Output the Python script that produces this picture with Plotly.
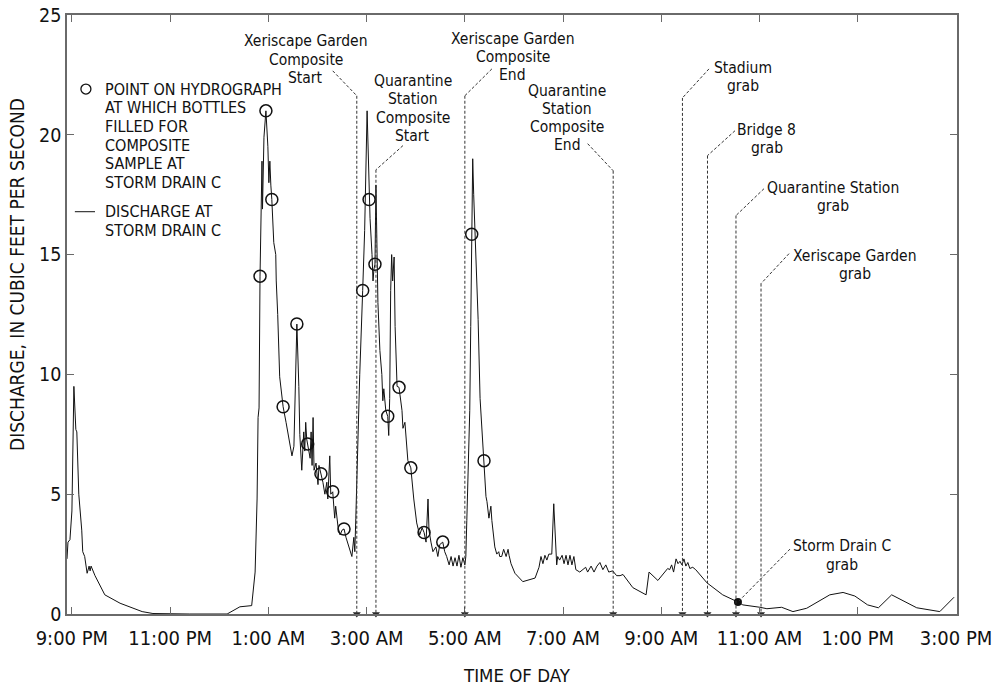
import plotly.graph_objects as go

# Discharge at Storm Drain C: hours elapsed since 9:00 PM and discharge (ft3/s)
hydro_hours = [
    -0.10, -0.08, -0.04, 0.00, 0.04, 0.08, 0.10, 0.14, 0.20, 0.22, 0.26, 0.31, 0.35,
    0.37, 0.39, 0.41, 0.47, 0.67, 0.98, 1.43, 1.65, 2.40, 3.16, 3.42, 3.66, 3.73,
    3.77, 3.79, 3.81, 3.83, 3.85, 3.87, 3.88, 3.91, 3.95, 3.99, 4.01, 4.03, 4.05,
    4.07, 4.11, 4.15, 4.16, 4.19, 4.23, 4.30, 4.36, 4.42, 4.48, 4.52, 4.58, 4.62,
    4.64, 4.68, 4.72, 4.74, 4.76, 4.78, 4.80, 4.85, 4.87, 4.89, 4.91, 4.93, 4.97,
    5.01, 5.03, 5.07, 5.11, 5.15, 5.19, 5.21, 5.25, 5.27, 5.31, 5.35, 5.37, 5.42,
    5.46, 5.50, 5.54, 5.58, 5.62, 5.66, 5.70, 5.74, 5.76, 5.78, 5.81, 5.82, 5.86,
    5.92, 5.96, 6.01, 6.03, 6.05, 6.07, 6.11, 6.13, 6.15, 6.17, 6.19, 6.21, 6.23,
    6.27, 6.31, 6.33, 6.35, 6.39, 6.43, 6.45, 6.47, 6.49, 6.51, 6.53, 6.56, 6.58,
    6.62, 6.66, 6.68, 6.72, 6.74, 6.78, 6.84, 6.90, 6.96, 7.02, 7.08, 7.13, 7.17,
    7.21, 7.25, 7.27, 7.31, 7.35, 7.41, 7.45, 7.49, 7.55, 7.59, 7.63, 7.68, 7.72,
    7.76, 7.80, 7.84, 7.88, 7.92, 7.96, 8.00, 8.02, 8.04, 8.06, 8.10, 8.12, 8.14,
    8.16, 8.18, 8.23, 8.27, 8.31, 8.35, 8.39, 8.43, 8.45, 8.49, 8.53, 8.55, 8.61,
    8.65, 8.69, 8.71, 8.75, 8.79, 8.84, 8.88, 8.90, 8.94, 9.02, 9.18, 9.43, 9.47,
    9.51, 9.55, 9.59, 9.63, 9.67, 9.71, 9.77, 9.81, 9.85, 9.87, 9.89, 9.93, 9.98,
    10.02, 10.06, 10.10, 10.14, 10.18, 10.22, 10.26, 10.34, 10.40, 10.46, 10.50,
    10.57, 10.63, 10.69, 10.75, 10.81, 10.87, 10.93, 11.01, 11.09, 11.16, 11.22,
    11.42, 11.69, 11.75, 11.93, 12.13, 12.17, 12.21, 12.25, 12.30, 12.34, 12.38,
    12.42, 12.46, 12.50, 12.54, 12.58, 12.64, 12.70, 12.93, 13.25, 13.56, 13.66,
    14.01, 14.15, 14.45, 14.68, 14.96, 15.43, 15.70, 15.94, 16.20, 16.42, 16.69,
    17.20, 17.67, 17.96,
]
hydro_cfs = [
    2.3, 3.0, 3.1, 4.3, 9.5, 7.7, 7.6, 5.0, 3.5, 2.6, 2.4, 1.7, 2.0,
    1.8, 2.0, 1.9, 1.6, 0.8, 0.45, 0.1, 0.02, 0.0, 0.0, 0.3, 0.35, 1.75,
    4.8, 8.2, 8.6, 14.1, 16.0, 18.9, 16.9, 19.9, 21.0, 19.5, 18.0, 18.9, 17.9,
    17.3, 15.5, 15.0, 13.9, 12.5, 9.9, 8.65, 8.0, 7.3, 6.6, 7.0, 12.1, 9.5,
    7.5, 6.0, 7.6, 6.8, 8.0, 7.3, 7.1, 6.5, 7.6, 6.2, 8.2, 6.0, 6.3,
    5.4, 6.2, 5.85, 5.5, 5.0, 5.5, 4.8, 6.6, 5.0, 5.1, 4.0, 4.5, 3.6,
    3.3, 3.5, 3.55, 3.2, 2.9, 2.6, 2.4, 3.2, 2.6, 4.0, 6.5, 7.5, 10.0,
    13.5, 16.0, 21.0, 19.0, 17.3, 16.5, 15.0, 13.9, 14.4, 14.6, 17.9, 16.0, 13.0,
    11.0, 10.0, 8.9, 9.4, 8.5, 8.25, 7.45, 9.0, 13.5, 15.0, 13.9, 14.9, 12.0,
    9.5, 9.46, 9.2, 8.5, 7.75, 8.0, 6.4, 6.1, 4.8, 3.8, 3.3, 3.6, 3.4,
    3.0, 4.8, 3.5, 3.0, 2.6, 2.8, 2.4, 2.9, 3.0, 2.6, 2.4, 2.05, 2.4,
    2.0, 2.35, 2.0, 2.45, 1.95, 2.35, 2.05, 2.4, 3.9, 5.7, 8.5, 12.0, 15.85,
    19.0, 17.5, 15.0, 12.3, 9.0, 7.5, 6.4, 4.9, 4.7, 4.0, 4.5, 3.9, 2.8,
    2.5, 2.6, 2.4, 2.4, 2.7, 2.4, 2.7, 2.45, 2.1, 1.7, 1.35, 1.5, 1.7,
    1.95, 2.4, 2.1, 2.45, 2.25, 2.5, 2.5, 4.6, 2.5, 2.05, 2.4, 2.25, 2.45,
    2.1, 2.45, 2.05, 2.45, 2.05, 2.4, 1.85, 1.75, 1.85, 1.95, 1.75,
    2.0, 1.75, 2.0, 2.15, 1.85, 2.05, 1.75, 1.8, 1.6, 1.6, 1.65,
    1.1, 0.8, 1.75, 1.4, 1.9, 1.85, 2.05, 1.75, 2.3, 2.1, 2.2,
    2.05, 2.3, 2.0, 2.15, 1.9, 1.95, 1.85, 1.3, 0.8, 0.5, 0.38,
    0.28, 0.22, 0.28, 0.1, 0.24, 0.8, 0.9, 0.75, 0.38, 0.26, 0.8,
    0.26, 0.1, 0.7,
]

# Points on the hydrograph at which bottles were filled for the composite sample
composite_hours = [3.83, 3.95, 4.07, 4.30, 4.58, 4.80, 5.07, 5.31, 5.54, 5.92,
                   6.05, 6.17, 6.43, 6.66, 6.90, 7.17, 7.55, 8.14, 8.39]
composite_cfs = [14.1, 21.0, 17.3, 8.65, 12.1, 7.1, 5.85, 5.1, 3.55, 13.5,
                 17.3, 14.6, 8.25, 9.46, 6.1, 3.4, 3.0, 15.85, 6.4]

# Storm Drain C grab sample
grab_hours = [13.56]
grab_cfs = [0.5]

# Sampling events at the other sites (hours since 9:00 PM)
event_labels = [
    "Xeriscape Garden\nComposite\nStart",
    "Quarantine\nStation\nComposite\nStart",
    "Xeriscape Garden\nComposite\nEnd",
    "Quarantine\nStation\nComposite\nEnd",
    "Stadium\ngrab",
    "Bridge 8\ngrab",
    "Quarantine Station\ngrab",
    "Xeriscape Garden\ngrab",
]
event_hours = [5.80, 6.19, 8.00, 11.02, 12.43, 12.94, 13.52, 14.03]

tick_hours = [0, 2, 4, 6, 8, 10, 12, 14, 16, 18]
tick_labels = ["9:00 PM", "11:00 PM", "1:00 AM", "3:00 AM", "5:00 AM",
               "7:00 AM", "9:00 AM", "11:00 AM", "1:00 PM", "3:00 PM"]

FONT = "Liberation Sans Narrow, DejaVu Sans Condensed, Roboto, sans-serif"
INK = "#111111"
FRAME = "#6a6a6a"
LEADER = dict(color="#333333", width=1, dash="3px,2px")
LABEL_SIZE = 15.5
LABEL_STEP = 0.76      # line-to-line distance of label text, in axis units
KEY_SIZE = 16
KEY_STEP = 0.78

# Label placement for each event: text centre (x, middle of block),
# leader start and the height where the leader turns down to the axis
label_layout = [
    dict(x=4.76, yc=23.14, lead=(5.31, 22.67), bend=21.63),
    dict(x=6.94, yc=21.10, lead=(6.74, 19.55), bend=18.54),
    dict(x=8.98, yc=23.24, lead=(8.55, 22.75), bend=21.63),
    dict(x=10.08, yc=20.70, lead=(10.50, 19.63), bend=18.50),
    dict(x=13.66, yc=22.42, lead=(12.97, 22.75), bend=21.54),
    dict(x=14.15, yc=19.84, lead=(13.50, 20.17), bend=19.13),
    dict(x=15.49, yc=17.40, lead=(14.09, 17.75), bend=16.63),
    dict(x=15.94, yc=14.57, lead=(14.60, 15.04), bend=13.79),
]

fig = go.Figure()

fig.add_trace(go.Scatter(
    x=hydro_hours, y=hydro_cfs, mode="lines",
    line=dict(color=INK, width=1), hoverinfo="skip", showlegend=False,
))
fig.add_trace(go.Scatter(
    x=composite_hours, y=composite_cfs, mode="markers",
    marker=dict(symbol="circle-open", size=12, color=INK, line=dict(width=1.5)),
    hoverinfo="skip", showlegend=False,
))
fig.add_trace(go.Scatter(
    x=grab_hours, y=grab_cfs, mode="markers",
    marker=dict(symbol="circle", size=8, color=INK),
    hoverinfo="skip", showlegend=False,
))
# arrowheads where each event line meets the time axis
fig.add_trace(go.Scatter(
    x=event_hours, y=[0] * len(event_hours), mode="markers",
    marker=dict(symbol="triangle-down", size=7, color="#2a2a2a"),
    cliponaxis=False, hoverinfo="skip", showlegend=False,
))

annotations = []
shapes = []


def text_line(x, y, s, size=LABEL_SIZE, anchor="center"):
    annotations.append(dict(
        x=x, y=y, xref="x", yref="y", text=s, showarrow=False,
        xanchor=anchor, yanchor="middle", borderpad=0,
        font=dict(family=FONT, size=size, color=INK),
    ))


def text_block(x, yc, lines, step, size=LABEL_SIZE, anchor="center"):
    n = len(lines)
    for i, s in enumerate(lines):
        text_line(x, yc + ((n - 1) / 2 - i) * step, s, size, anchor)


for label, t, lay in zip(event_labels, event_hours, label_layout):
    text_block(lay["x"], lay["yc"], label.split("\n"), LABEL_STEP)
    lx, ly = lay["lead"]
    shapes.append(dict(type="line", xref="x", yref="y", x0=lx, y0=ly,
                       x1=t, y1=lay["bend"], line=LEADER))
    shapes.append(dict(type="line", xref="x", yref="y", x0=t, y0=lay["bend"],
                       x1=t, y1=0, line=LEADER))

# Storm Drain C grab callout
text_block(15.68, 2.44, ["Storm Drain C", "grab"], LABEL_STEP)
shapes.append(dict(type="line", xref="x", yref="y", x0=14.62, y0=2.71,
                   x1=grab_hours[0], y1=grab_cfs[0], line=LEADER))

# Key
key_lines = ["POINT ON HYDROGRAPH", "AT WHICH BOTTLES", "FILLED FOR",
             "COMPOSITE", "SAMPLE AT", "STORM DRAIN C"]
key_yc = 19.96
key_top = key_yc + (len(key_lines) - 1) / 2 * KEY_STEP
text_block(0.65, key_yc, key_lines, KEY_STEP, size=KEY_SIZE, anchor="left")
shapes.append(dict(type="circle", xref="x", yref="y", xsizemode="pixel",
                   ysizemode="pixel", xanchor=0.285, yanchor=key_top,
                   x0=-5, x1=5, y0=-5, y1=5, line=dict(color=INK, width=1.3)))
line_key_yc = 16.40
text_block(0.65, line_key_yc, ["DISCHARGE AT", "STORM DRAIN C"], KEY_STEP,
           size=KEY_SIZE, anchor="left")
shapes.append(dict(type="line", xref="x", yref="y", x0=0.06, x1=0.47,
                   y0=line_key_yc + KEY_STEP / 2, y1=line_key_yc + KEY_STEP / 2,
                   line=dict(color=INK, width=1)))

# Axis titles
annotations.append(dict(
    x=0, y=0.566, xref="paper", yref="paper", xshift=-50, textangle=-90,
    text="DISCHARGE, IN CUBIC FEET PER SECOND", showarrow=False,
    xanchor="center", yanchor="middle",
    font=dict(family=FONT, size=19, color=INK),
))
annotations.append(dict(
    x=0.506, y=0, xref="paper", yref="paper", yshift=-61,
    text="TIME OF DAY", showarrow=False, xanchor="center", yanchor="middle",
    font=dict(family=FONT, size=18.5, color=INK),
))

fig.update_layout(
    width=992, height=687,
    margin=dict(l=67, r=35, t=15, b=73, autoexpand=False),
    paper_bgcolor="white", plot_bgcolor="white",
    font=dict(family=FONT, size=20, color=INK),
    showlegend=False,
    annotations=annotations,
    shapes=shapes,
    xaxis=dict(
        range=[-0.10, 18.02], tickvals=tick_hours, ticktext=tick_labels,
        ticks="inside", ticklen=7, tickcolor=FRAME, tickwidth=1.3,
        showline=True, linecolor=FRAME, linewidth=1.5, mirror="ticks",
        showgrid=False, zeroline=False, automargin=False,
        ticklabeloverflow="allow", ticklabelstandoff=5,
        tickfont=dict(family=FONT, size=20, color=INK),
    ),
    yaxis=dict(
        range=[0, 25], tickvals=[0, 5, 10, 15, 20, 25],
        ticks="inside", ticklen=7, tickcolor=FRAME, tickwidth=1.3,
        showline=True, linecolor=FRAME, linewidth=1.5, mirror="ticks",
        showgrid=False, zeroline=False, automargin=False,
        ticklabeloverflow="allow",
        tickfont=dict(family=FONT, size=19.5, color=INK),
    ),
)

fig.write_html("out.html")
